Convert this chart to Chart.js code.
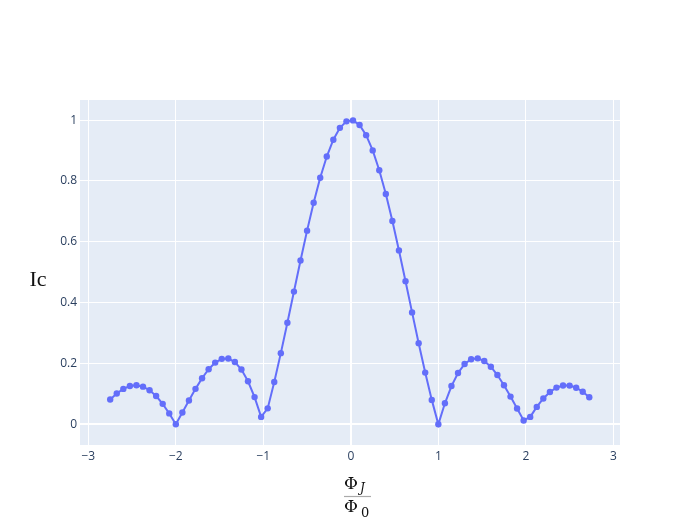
<!DOCTYPE html>
<html>
<head>
<meta charset="utf-8">
<script src="https://cdn.jsdelivr.net/npm/chart.js@4"></script>
<style>
    html, body { margin: 0; padding: 0; background: #fff; }
    canvas { display: block; }
</style>
</head>
<body>
<canvas id="fraunhofer" width="700" height="525"></canvas>
<script>
// flux values (Phi_J / Phi_0)
const fluxValues = [
    -2.75, -2.675, -2.6, -2.525, -2.45, -2.375, -2.3, -2.225, -2.15, -2.075,
    -2.0, -1.925, -1.85, -1.775, -1.7, -1.625, -1.55, -1.475, -1.4, -1.325,
    -1.25, -1.175, -1.1, -1.025, -0.95, -0.875, -0.8, -0.725, -0.65, -0.575,
    -0.5, -0.425, -0.35, -0.275, -0.2, -0.125, -0.05, 0.025, 0.1, 0.175,
    0.25, 0.325, 0.4, 0.475, 0.55, 0.625, 0.7, 0.775, 0.85, 0.925,
    1.0, 1.075, 1.15, 1.225, 1.3, 1.375, 1.45, 1.525, 1.6, 1.675,
    1.75, 1.825, 1.9, 1.975, 2.05, 2.125, 2.2, 2.275, 2.35, 2.425,
    2.5, 2.575, 2.65, 2.725
];

// critical current at each flux value
const icValues = [
    0.0818, 0.1015, 0.1164, 0.1257, 0.1283, 0.1238, 0.1120, 0.0929, 0.0672, 0.0358,
    0.0, 0.0386, 0.0781, 0.1165, 0.1515, 0.1810, 0.2028, 0.2151, 0.2162, 0.2048,
    0.1801, 0.1415, 0.0894, 0.0244, 0.0524, 0.1392, 0.2339, 0.3338, 0.4363, 0.5383,
    0.6366, 0.7283, 0.8103, 0.8802, 0.9355, 0.9745, 0.9959, 0.9990, 0.9836, 0.9504,
    0.9003, 0.8351, 0.7568, 0.6681, 0.5716, 0.4705, 0.3679, 0.2667, 0.1700, 0.0803,
    0.0, 0.0691, 0.1257, 0.1688, 0.1981, 0.2139, 0.2168, 0.2081, 0.1892, 0.1620,
    0.1286, 0.0911, 0.0518, 0.0126, 0.0243, 0.0573, 0.0850, 0.1064, 0.1207, 0.1276,
    0.1273, 0.1202, 0.1070, 0.0888
];

const xTicks = [-3, -2, -1, 0, 1, 2, 3];
const yTicks = [0, 0.2, 0.4, 0.6, 0.8, 1];

const LINE_COLOR = '#636efa';
const TICK_COLOR = '#2a3f5f';
const PLOT_BG = '#e5ecf6';

// plotly style minus sign
function fmt(v) {
    const s = String(Math.round(v * 10) / 10);
    return s.replace('-', '\u2212');
}

// background of the plot area + axis titles
const plotDecor = {
    id: 'plotDecor',
    beforeDraw(chart) {
        const { ctx, chartArea: a } = chart;
        ctx.save();
        ctx.fillStyle = '#fff';
        ctx.fillRect(0, 0, chart.width, chart.height);
        ctx.fillStyle = PLOT_BG;
        ctx.fillRect(a.left, a.top, a.right - a.left, a.bottom - a.top);
        ctx.restore();
    },
    afterDraw(chart) {
        const ctx = chart.ctx;
        ctx.save();
        ctx.fillStyle = '#111';
        ctx.textBaseline = 'alphabetic';

        // y title
        ctx.font = '22px "Liberation Serif", serif';
        ctx.textAlign = 'center';
        ctx.fillText('Ic', 38, 286);

        // x title: Phi_J over Phi_0
        ctx.textAlign = 'left';
        ctx.font = '17px "DejaVu Serif", serif';
        ctx.fillText('\u03A6', 344, 489);
        ctx.fillText('\u03A6', 344, 512);
        ctx.font = 'italic 12px "DejaVu Serif", serif';
        ctx.fillText('J', 360, 492);
        ctx.font = '13px "DejaVu Serif", serif';
        ctx.fillText('0', 361, 517);

        ctx.strokeStyle = '#aaa';
        ctx.lineWidth = 1.2;
        ctx.beginPath();
        ctx.moveTo(344, 496.5);
        ctx.lineTo(371, 496.5);
        ctx.stroke();
        ctx.restore();
    }
};

const gridOpts = {
    color: '#fff',
    lineWidth: (c) => (c.tick && c.tick.value === 0 ? 2 : 1),
    drawTicks: false
};

new Chart(document.getElementById('fraunhofer').getContext('2d'), {
    type: 'scatter',
    data: {
        datasets: [{
            data: fluxValues.map((x, i) => ({ x: x, y: icValues[i] })),
            showLine: true,
            borderColor: LINE_COLOR,
            borderWidth: 2,
            backgroundColor: LINE_COLOR,
            pointBackgroundColor: LINE_COLOR,
            pointBorderWidth: 0,
            pointRadius: 3.2,
            tension: 0
        }]
    },
    options: {
        responsive: false,
        animation: false,
        layout: { padding: { top: 100, right: 80, left: 0, bottom: 0 } },
        plugins: {
            legend: { display: false },
            tooltip: { enabled: false }
        },
        scales: {
            x: {
                type: 'linear',
                min: -3.095,
                max: 3.076,
                border: { display: false },
                grid: gridOpts,
                afterBuildTicks: (s) => { s.ticks = xTicks.map(v => ({ value: v })); },
                afterFit: (s) => { s.height = 80; },
                ticks: {
                    color: TICK_COLOR,
                    padding: 4,
                    maxRotation: 0,
                    font: { family: '"Open Sans", sans-serif', size: 12 },
                    callback: (v) => fmt(v)
                }
            },
            y: {
                type: 'linear',
                min: -0.068,
                max: 1.066,
                border: { display: false },
                grid: gridOpts,
                afterBuildTicks: (s) => { s.ticks = yTicks.map(v => ({ value: v })); },
                afterFit: (s) => { s.width = 80; },
                ticks: {
                    color: TICK_COLOR,
                    padding: 3,
                    font: { family: '"Open Sans", sans-serif', size: 12 },
                    callback: (v) => fmt(v)
                }
            }
        }
    },
    plugins: [plotDecor]
});
</script>
</body>
</html>
